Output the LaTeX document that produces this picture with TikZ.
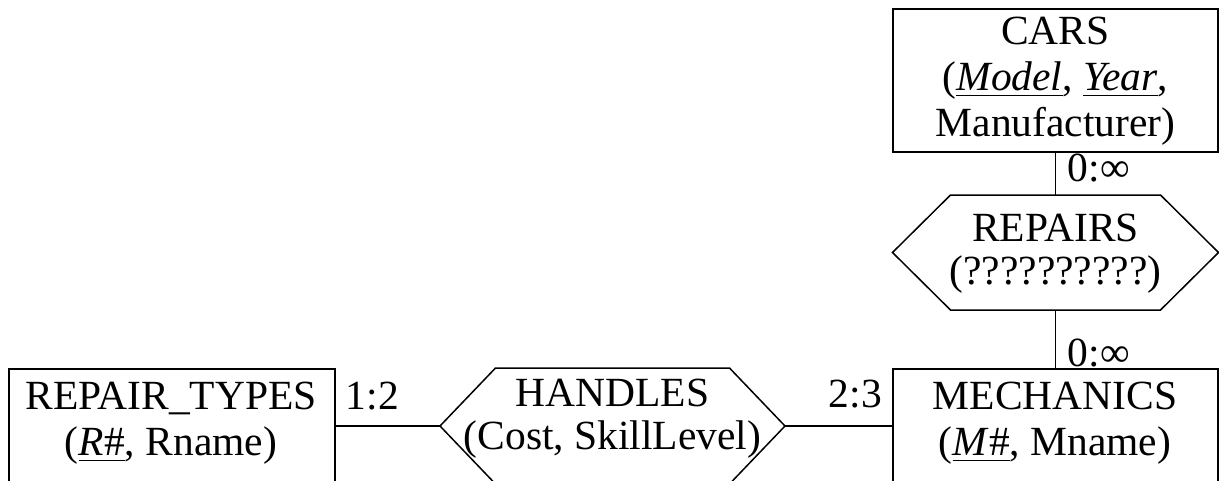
\documentclass[tikz,border=0pt]{standalone}
\usepackage{fontspec}
\setmainfont{Liberation Serif}
\newsavebox\ulbox
\newcommand\keyul[1]{\sbox\ulbox{#1}\rlap{\rule[-6pt]{\wd\ulbox}{1.6pt}}\usebox\ulbox}
\begin{document}
\begin{tikzpicture}[x=1pt,y=-1pt,line width=1.5pt,
  ent/.style={draw,rectangle,inner sep=0pt},
  etxt/.style={align=center,inner sep=0pt,font=\fontsize{41.5}{46}\selectfont},
  rtxt/.style={align=center,inner sep=0pt,font=\fontsize{41.5}{43}\selectfont},
  card/.style={anchor=base west,inner sep=0pt,font=\fontsize{41.5}{46}\selectfont}]
\useasboundingbox (0,0) rectangle (1219,480);
\clip (0,0) rectangle (1219,480);
% entities
\node[ent,minimum width=325pt,minimum height=143pt] (cars) at (1055.5,80.5) {};
\node[etxt] (carsT) at (1055.5,81) {CARS\\(\keyul{\textit{Model}}, \keyul{\textit{Year}},\\Manufacturer)};
\node[ent,minimum width=325pt,minimum height=114pt] (mech) at (1055.5,426) {};
\node[etxt] (mechT) at (1055,423) {MECHANICS\\(\keyul{\textit{M}\#}, Mname)};
\node[ent,minimum width=326pt,minimum height=114pt] (rtypes) at (172,426) {};
\node[etxt] (rtypesT) at (171,423) {REPAIR\_TYPES\\(\keyul{\textit{R}\#}, Rname)};
% relationship REPAIRS
\coordinate (rep) at (1055.5,252.5);
\coordinate (repN) at (1055.5,195);
\coordinate (repS) at (1055.5,310);
\draw (rep) +(-163,0) -- +(-105,-57.5) -- +(105,-57.5) -- +(163,0) -- +(105,57.5) -- +(-105,57.5) -- cycle;
\node[rtxt] (repT) at (1055.5,254) {REPAIRS\\(??????????)};
% relationship HANDLES
\coordinate (han) at (612.5,426);
\coordinate (hanW) at (440,426);
\coordinate (hanE) at (785,426);
\draw (han) +(-172.5,0) -- +(-117,-58) -- +(117,-58) -- +(172.5,0) -- +(117,58) -- +(-117,58) -- cycle;
\node[rtxt] (hanT) at (612.5,419) {HANDLES\\(Cost, SkillLevel)};
% connectors
\draw (cars.south) -- (repN);
\draw (repS) -- (mech.north);
\draw (rtypes.east) -- (hanW);
\draw (hanE) -- (mech.west);
% cardinalities
\node[card] (c1) at (1067,181) {0:∞};
\node[card] (c2) at (1067,366) {0:∞};
\node[card] (c3) at (345,409) {1:2};
\node[card] (c4) at (828,407) {2:3};
\end{tikzpicture}
\end{document}
